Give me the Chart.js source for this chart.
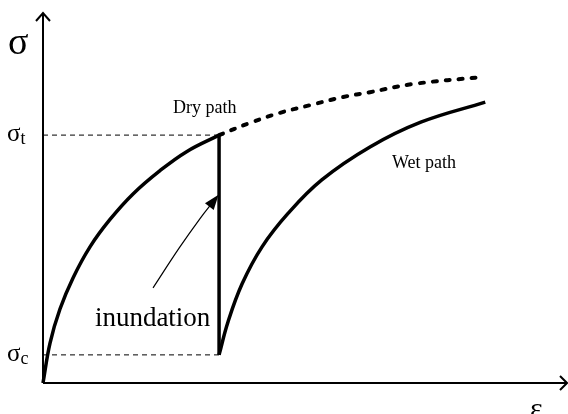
<!DOCTYPE html>
<html>
<head>
<meta charset="utf-8">
<script src="https://cdn.jsdelivr.net/npm/chart.js@4"></script>
<style>
  html, body { margin: 0; padding: 0; background: #fff; }
  #wrap { width: 568px; height: 414px; }
</style>
</head>
<body>
<div id="wrap"><canvas id="chart"></canvas></div>
<script>
// axes run 0..100 in both directions
const sigmaT = 67;     // stress where wetting starts
const sigmaC = 7.6;    // stress after collapse
const epsWet = 33.6;   // strain at inundation

// dry path up to inundation
const dryX = [0, 1.34, 3.24, 5.73, 8.97, 12.79, 17.18, 22.33, 27.48, 33.6];
const dryY = [0, 10.8, 20.0, 28.4, 36.8, 44.2, 51.1, 57.4, 62.6, 67];

// dry path continued (dotted)
const dryOnX = [33.6, 39.5, 45.2, 51.0, 57.3, 62.4, 70.6, 83.8];
const dryOnY = [67, 70.3, 73.0, 75.1, 77.3, 78.6, 80.8, 82.7];

// wet path
const wetX = [33.6, 35.3, 38.0, 41.8, 46.8, 53.2, 62.4, 72.1, 84.4];
const wetY = [7.6, 16.5, 26.8, 36.8, 45.9, 54.9, 63.8, 70.5, 75.9];

// pointer to the collapse line
const arrowX = [21, 26, 30, 32.8];
const arrowY = [25.7, 36.5, 44.5, 49.6];

const pts = (xs, ys) => xs.map((x, i) => ({ x, y: ys[i] }));

const line = (data, extra) => Object.assign({
  data, showLine: true, pointRadius: 0, borderColor: "#000",
  borderWidth: 3.5, fill: false, clip: false
}, extra);

const serif = "'Liberation Serif', 'DejaVu Serif', serif";

const drawings = {
  id: "drawings",
  beforeDatasetsDraw(chart) {
    const { ctx, scales: { x, y } } = chart;
    const x0 = x.getPixelForValue(0), y0 = y.getPixelForValue(0);
    const xt = x.getPixelForValue(100), yt = y.getPixelForValue(100);
    ctx.save();
    ctx.strokeStyle = "#000";
    ctx.lineWidth = 2;
    ctx.beginPath();
    ctx.moveTo(x0, y0); ctx.lineTo(x0, yt);
    ctx.moveTo(x0, y0); ctx.lineTo(xt, y0);
    // open arrow heads
    ctx.moveTo(x0 - 7, yt + 8); ctx.lineTo(x0, yt); ctx.lineTo(x0 + 7, yt + 8);
    ctx.moveTo(xt - 7, y0 - 7); ctx.lineTo(xt, y0); ctx.lineTo(xt - 7, y0 + 7);
    ctx.stroke();
    ctx.restore();
  },
  afterDatasetsDraw(chart) {
    const { ctx, scales: { x, y } } = chart;
    ctx.save();
    ctx.fillStyle = "#000";

    // filled head on the inundation pointer
    const n = arrowX.length;
    const tx = x.getPixelForValue(arrowX[n - 1]), ty = y.getPixelForValue(arrowY[n - 1]);
    const px = x.getPixelForValue(arrowX[n - 2]), py = y.getPixelForValue(arrowY[n - 2]);
    const a = Math.atan2(ty - py, tx - px);
    const hx = tx + 6 * Math.cos(a), hy = ty + 6 * Math.sin(a);
    ctx.beginPath();
    ctx.moveTo(hx, hy);
    ctx.lineTo(hx - 15 * Math.cos(a) + 5.5 * Math.sin(a), hy - 15 * Math.sin(a) - 5.5 * Math.cos(a));
    ctx.lineTo(hx - 15 * Math.cos(a) - 5.5 * Math.sin(a), hy - 15 * Math.sin(a) + 5.5 * Math.cos(a));
    ctx.closePath();
    ctx.fill();

    // axis symbols
    ctx.textBaseline = "alphabetic";
    ctx.textAlign = "left";
    ctx.font = "38px " + serif;
    ctx.fillText("σ", 8, 54);
    ctx.font = "30px " + serif;
    ctx.fillText("ε", 530, 418);

    // sigma_t and sigma_c labels
    const sub = (main, s, v) => {
      const py = y.getPixelForValue(v);
      ctx.font = "25px " + serif;
      ctx.fillText(main, 7, py + 6);
      const w = ctx.measureText(main).width;
      ctx.font = "18px " + serif;
      ctx.fillText(s, 7 + w, py + 9);
    };
    sub("σ", "t", sigmaT);
    sub("σ", "c", sigmaC);

    // path labels
    ctx.font = "18px " + serif;
    ctx.fillText("Dry path", x.getPixelForValue(24.8), y.getPixelForValue(73));
    ctx.fillText("Wet path", x.getPixelForValue(66.6), y.getPixelForValue(58.1));
    ctx.font = "27px " + serif;
    ctx.fillText("inundation", x.getPixelForValue(9.9), y.getPixelForValue(15.5));
    ctx.restore();
  }
};

new Chart(document.getElementById("chart"), {
  type: "scatter",
  data: {
    datasets: [
      line(pts(dryX, dryY), { tension: 0.4 }),
      line(pts(dryOnX, dryOnY), { tension: 0.4, borderWidth: 4, borderDash: [4, 9], borderCapStyle: "round" }),
      line(pts(wetX, wetY), { tension: 0.4 }),
      line(pts([epsWet, epsWet], [sigmaC, sigmaT]), {}),
      line(pts([0, epsWet], [sigmaT, sigmaT]), { borderWidth: 1, borderDash: [5, 4] }),
      line(pts([0, epsWet], [sigmaC, sigmaC]), { borderWidth: 1, borderDash: [5, 4] }),
      line(pts(arrowX, arrowY), { borderWidth: 1.2, tension: 0.4 })
    ]
  },
  options: {
    responsive: true,
    maintainAspectRatio: false,
    animation: false,
    layout: { padding: { left: 43, top: 13, right: 1, bottom: 31 } },
    plugins: { legend: { display: false }, tooltip: { enabled: false } },
    scales: {
      x: { type: "linear", min: 0, max: 100, display: false },
      y: { type: "linear", min: 0, max: 100, display: false }
    }
  },
  plugins: [drawings]
});
</script>
</body>
</html>
